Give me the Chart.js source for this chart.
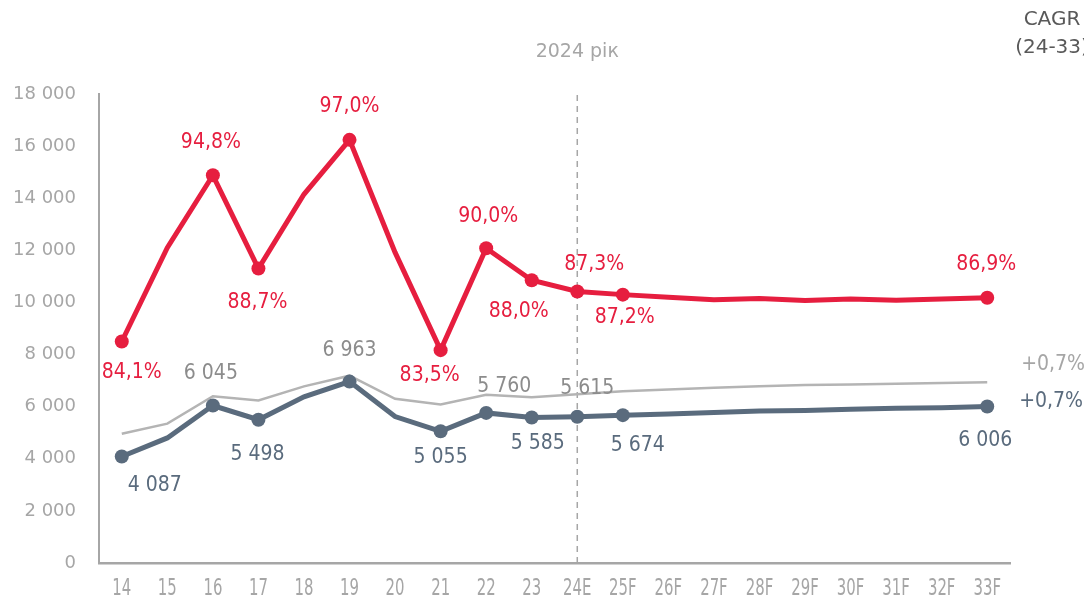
<!DOCTYPE html>
<html>
<head>
<meta charset="utf-8">
<script src="https://cdn.jsdelivr.net/npm/chart.js@4/dist/chart.umd.min.js"></script>
<style>
	html, body { margin: 0; padding: 0; background: #fff; }
	#wrap { width: 1084px; height: 599px; position: relative; }
</style>
</head>
<body>
<div id="wrap"><canvas id="myChart" width="1084" height="599"></canvas></div>
<script>
// years on the x axis
const years = ['14', '15', '16', '17', '18', '19', '20', '21', '22', '23', '24E', '25F', '26F', '27F', '28F', '29F', '30F', '31F', '32F', '33F'];

// red line
const redValues = [8500, 12100, 14880, 11300, 14150, 16240, 11920, 8170, 12080, 10850, 10420, 10300, 10200, 10100, 10150, 10070, 10130, 10080, 10130, 10180];
const redShares = ['84,1%', null, '94,8%', '88,7%', null, '97,0%', null, '83,5%', '90,0%', '88,0%', '87,3%', '87,2%', null, null, null, null, null, null, null, '86,9%'];

// dark line
const darkValues = [4087, 4800, 6045, 5498, 6380, 6963, 5620, 5055, 5760, 5585, 5615, 5674, 5720, 5780, 5830, 5850, 5900, 5940, 5960, 6006];
const darkLabelled = [0, 2, 3, 5, 7, 8, 9, 10, 11, 19];

// thin grey line
const greyValues = [4960, 5350, 6400, 6240, 6780, 7190, 6300, 6080, 6460, 6360, 6480, 6590, 6660, 6730, 6780, 6830, 6850, 6880, 6910, 6935];

const yTicks = [0, 2000, 4000, 6000, 8000, 10000, 12000, 14000, 16000, 18000];
const cagrGrey = '+0,7%';
const cagrDark = '+0,7%';

const RED = '#e61e3f';
const DARK = '#5a6b7d';
const GREY = '#b4b4b4';
const AXIS = '#a6a6a6';
const LBLGREY = '#8c8c8c';
const FONT = '"DejaVu Sans", sans-serif';
const CFONT = '"DejaVu Sans Condensed", sans-serif';

function fmt(v) {
	return String(v).replace(/\B(?=(\d{3})+(?!\d))/g, ' ');
}

// label placement [dx, dy] around the point
const redPlace = { 0: [10, 31], 2: [-2, -33], 3: [-1, 34], 5: [0, -33], 7: [-11, 25], 8: [2, -32], 9: [-13, 31], 10: [17, -27], 11: [2, 23], 19: [-1, -33] };
const darkPlace = { 0: [33, 29], 2: [-2, -32], 3: [-1, 35], 5: [0, -31], 7: [0, 26], 8: [18, -26], 9: [6, 26], 10: [10, -28], 11: [15, 30], 19: [-2, 34] };
const darkGreyLabels = [2, 5, 8, 10];

const redRadius = redShares.map(s => s ? 7 : 0);
const darkRadius = darkValues.map((v, i) => darkLabelled.includes(i) ? 7 : 0);

const extras = {
	id: 'extras',
	beforeDatasetsDraw(chart) {
		const ctx = chart.ctx;
		const xs = chart.scales.x;
		const x = xs.getPixelForValue(10);
		const area = chart.chartArea;
		ctx.save();
		ctx.strokeStyle = AXIS;
		ctx.lineWidth = 1.5;
		ctx.setLineDash([6, 5]);
		ctx.beginPath();
		ctx.moveTo(x, area.top + 1);
		ctx.lineTo(x, area.bottom);
		ctx.stroke();
		ctx.setLineDash([]);
		ctx.fillStyle = AXIS;
		ctx.font = '19px ' + FONT;
		ctx.textAlign = 'center';
		ctx.textBaseline = 'middle';
		ctx.fillText('2024 рік', x, 52);
		ctx.fillStyle = '#595959';
		ctx.font = '20px ' + FONT;
		ctx.fillText('CAGR', 1052, 20);
		ctx.fillText('(24-33)', 1052, 48);

		// narrow x labels
		ctx.fillStyle = AXIS;
		ctx.font = '23px ' + CFONT;
		years.forEach((y, i) => {
			const px = xs.getPixelForValue(i);
			ctx.save();
			ctx.translate(px, 589);
			ctx.scale(0.72, 1);
			ctx.fillText(y, 0, 0);
			ctx.restore();
		});
		ctx.restore();
	},
	afterDatasetsDraw(chart) {
		const ctx = chart.ctx;
		const redMeta = chart.getDatasetMeta(0);
		const darkMeta = chart.getDatasetMeta(1);
		const greyMeta = chart.getDatasetMeta(2);
		ctx.save();
		ctx.font = '21px ' + CFONT;
		ctx.textAlign = 'center';
		ctx.textBaseline = 'middle';
		redShares.forEach((s, i) => {
			if (!s) return;
			const p = redMeta.data[i];
			const o = redPlace[i];
			ctx.fillStyle = RED;
			ctx.fillText(s, p.x + o[0], p.y + o[1]);
		});
		darkLabelled.forEach(i => {
			const p = darkMeta.data[i];
			const o = darkPlace[i];
			ctx.fillStyle = darkGreyLabels.includes(i) ? LBLGREY : DARK;
			ctx.fillText(fmt(darkValues[i]), p.x + o[0], p.y + o[1]);
		});
		const last = years.length - 1;
		ctx.textAlign = 'left';
		const g = greyMeta.data[last];
		ctx.fillStyle = '#a6a6a6';
		ctx.fillText(cagrGrey, g.x + 34, g.y - 18);
		const d = darkMeta.data[last];
		ctx.fillStyle = DARK;
		ctx.fillText(cagrDark, d.x + 32, d.y - 5);
		ctx.restore();
	}
};

new Chart('myChart', {
	type: 'line',
	data: {
		labels: years,
		datasets: [{
			data: redValues,
			borderColor: RED,
			backgroundColor: RED,
			borderWidth: 5,
			pointRadius: redRadius,
			pointBorderWidth: 0,
			pointBackgroundColor: RED,
			tension: 0,
			fill: false
		}, {
			data: darkValues,
			borderColor: DARK,
			backgroundColor: DARK,
			borderWidth: 5,
			pointRadius: darkRadius,
			pointBorderWidth: 0,
			pointBackgroundColor: DARK,
			tension: 0,
			fill: false
		}, {
			data: greyValues,
			borderColor: GREY,
			borderWidth: 2.5,
			pointRadius: 0,
			tension: 0,
			fill: false
		}]
	},
	options: {
		responsive: false,
		animation: false,
		layout: { padding: { left: 0, right: 74, top: 94, bottom: 0 } },
		plugins: {
			legend: { display: false },
			tooltip: { enabled: false }
		},
		scales: {
			x: {
				offset: true,
				grid: { display: false, drawTicks: false },
				border: { display: true, color: AXIS, width: 2.5 },
				ticks: { display: false },
				afterFit(scale) { scale.height = 36; }
			},
			y: {
				min: 0,
				max: 18000,
				grid: { display: false, drawTicks: false },
				border: { display: true, color: AXIS, width: 2 },
				afterBuildTicks(scale) { scale.ticks = yTicks.map(v => ({ value: v })); },
				ticks: { color: AXIS, font: { family: FONT, size: 18 }, padding: 23, callback: v => fmt(v) },
				afterFit(scale) { scale.width = 99; }
			}
		}
	},
	plugins: [extras]
});
</script>
</body>
</html>
